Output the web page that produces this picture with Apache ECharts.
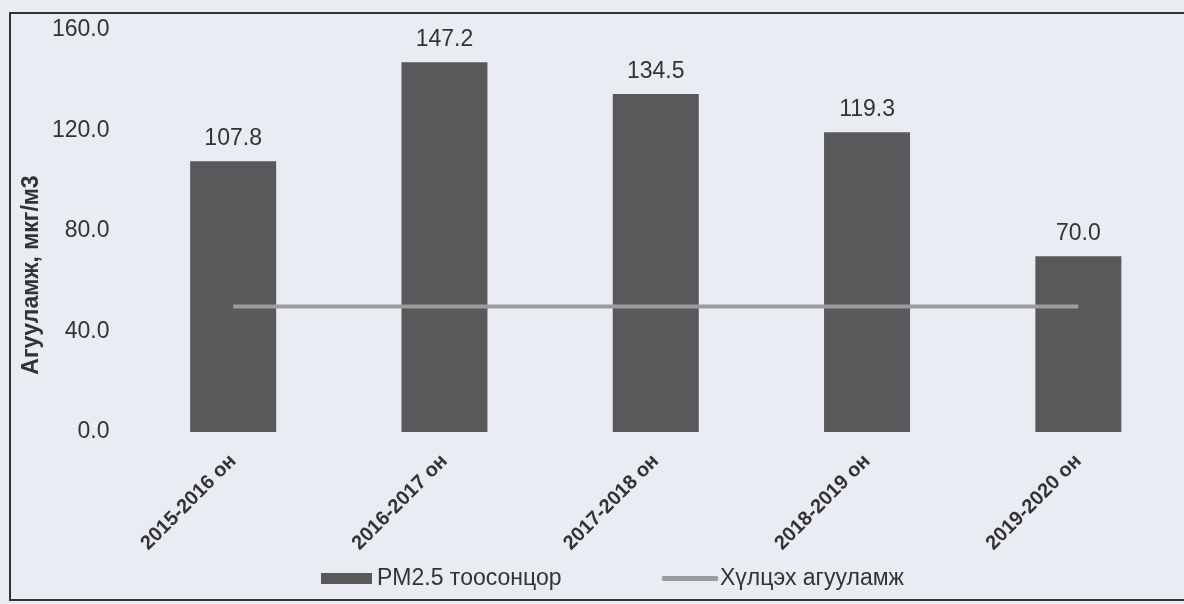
<!DOCTYPE html>
<html>
<head>
<meta charset="utf-8">
<script src="https://cdn.jsdelivr.net/npm/echarts@6/dist/echarts.min.js"></script>
<style>
html,body{margin:0;padding:0;background:#eaecf4;}
#c{width:1184px;height:604px;}
</style>
</head>
<body>
<div id="c"></div>
<script>
const categories = ['2015-2016 он','2016-2017 он','2017-2018 он','2018-2019 он','2019-2020 он'];
const pm25Values = [107.8, 147.2, 134.5, 119.3, 70.0];
const limitValues = [50, 50, 50, 50, 50];
const yTicks = [0, 40, 80, 120, 160];
const seriesNames = ['PM2.5 тоосонцор', 'Хүлцэх агууламж'];
const yAxisTitle = 'Агууламж, мкг/м3';

const font = '"Liberation Sans", Arial, sans-serif';
const chart = echarts.init(document.getElementById('c'), null, {renderer:'canvas'});
chart.setOption({
  backgroundColor: '#eaecf4',
  animation: false,
  grid: {left: 127.5, right: -8.5, top: 30, bottom: 172, containLabel: false},
  graphic: [
    {type:'rect', shape:{x:10, y:13, width:1200, height:587}, style:{fill:'none', stroke:'#333', lineWidth:2}, silent:true},
    {type:'text', x:32, y:275, rotation: Math.PI/2,
     style:{text: yAxisTitle, font:'bold 23px ' + font, fill:'#333', align:'center', verticalAlign:'middle'}}
  ],
  xAxis: {
    type: 'category',
    data: categories,
    axisLine: {show:false},
    axisTick: {show:false},
    axisLabel: {rotate: 45, margin: 26, fontFamily: font, fontWeight:'bold', fontSize: 20, color:'#333', interval:0}
  },
  yAxis: {
    type: 'value',
    min: yTicks[0], max: yTicks[yTicks.length-1], interval: 40,
    splitLine: {show:false},
    axisLine: {show:false},
    axisTick: {show:false},
    axisLabel: {margin: 18, fontFamily: font, fontSize: 23, color:'#333', formatter: v => v.toFixed(1)}
  },
  legend: [
    {
      left: 316, top: 562,
      itemWidth: 51, itemHeight: 11,
      textStyle: {fontFamily: font, fontSize: 23, color:'#333'},
      data: [{name: seriesNames[0], icon:'rect'}]
    },
    {
      left: 657, top: 562,
      itemWidth: 56, itemHeight: 5,
      textStyle: {fontFamily: font, fontSize: 23, color:'#333', padding:[0,0,0,-3]},
      data: [{name: seriesNames[1], icon:'roundRect'}]
    }
  ],
  series: [
    {
      name: seriesNames[0], type: 'bar', data: pm25Values, barWidth: 86,
      itemStyle: {color: '#59595b'},
      label: {show:true, position:'top', distance: 11, fontFamily: font, fontSize: 23, color:'#333', formatter: p => p.value.toFixed(1)}
    },
    {
      name: seriesNames[1], type: 'line', data: limitValues, symbol:'none', showSymbol:false,
      lineStyle: {color:'#9c9c9e', width: 4},
      itemStyle: {color:'#9c9c9e'}
    }
  ]
});
</script>
</body>
</html>
